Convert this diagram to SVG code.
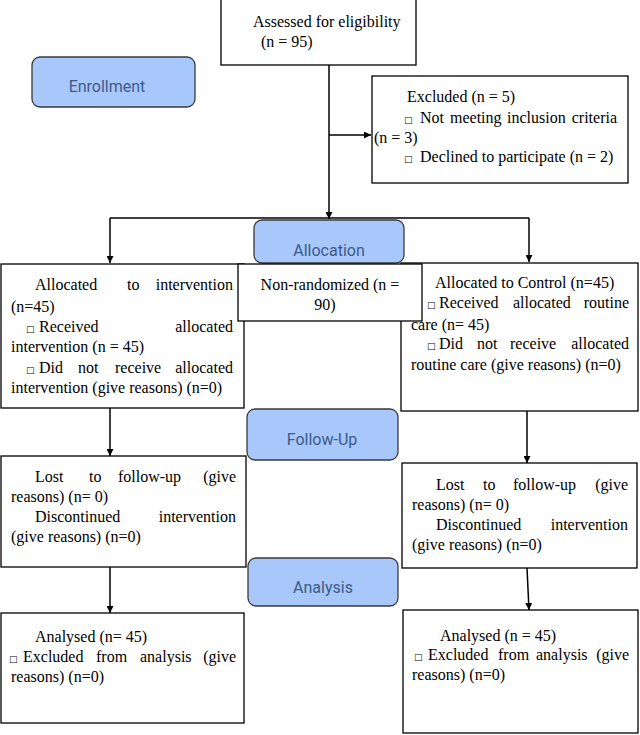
<svg xmlns="http://www.w3.org/2000/svg" width="640" height="735" viewBox="0 0 640 735">
<style>
.box{fill:#fff;stroke:#000;stroke-width:1.3}
.stage{fill:#a8c7fa;stroke:#3a3a3a;stroke-width:1.3}
.t{font-family:"Liberation Serif","Times New Roman",serif;font-size:16px;fill:#000}
.s{font-family:"DejaVu Sans",sans-serif;font-size:9px}
.e{text-anchor:end}
.lbl{font-family:Roboto,"Noto Sans",sans-serif;font-size:16px;fill:#3d5a8a;text-anchor:middle}
.con{fill:none;stroke:#000;stroke-width:1.5}
</style>
<defs>
<marker id="ah" viewBox="0 0 10 10" refX="10" refY="5" markerWidth="7" markerHeight="7" markerUnits="userSpaceOnUse" orient="auto">
<path d="M0,0 L10,5 L0,10 z" fill="#000"/>
</marker>
</defs>
<rect width="640" height="735" fill="#fff"/>

<g id="connectors">
<line class="con" x1="329" y1="65" x2="329" y2="219" marker-end="url(#ah)"/>
<line class="con" x1="329" y1="135" x2="371" y2="135" marker-end="url(#ah)"/>
<polyline class="con" points="110,218 529,218"/>
<line class="con" x1="110" y1="218" x2="110" y2="263" marker-end="url(#ah)"/>
<line class="con" x1="529" y1="218" x2="529" y2="262" marker-end="url(#ah)"/>
<line class="con" x1="110" y1="408" x2="110" y2="456" marker-end="url(#ah)"/>
<line class="con" x1="527" y1="411" x2="527" y2="463" marker-end="url(#ah)"/>
<line class="con" x1="110" y1="567" x2="110" y2="613" marker-end="url(#ah)"/>
<line class="con" x1="527" y1="568" x2="529" y2="610" marker-end="url(#ah)"/>
</g>

<g id="assessed">
<rect class="box" x="221" y="-1" width="195" height="66"/>
<text class="t" x="253" y="27">Assessed for eligibility</text>
<text class="t" x="261" y="47">(n = 95)</text>
</g>

<g id="enrollment">
<rect class="stage" x="32" y="57" width="163" height="50" rx="8"/>
<text class="lbl" x="107" y="92">Enrollment</text>
</g>

<g id="excluded">
<rect class="box" x="372" y="76" width="256" height="107"/>
<text class="t" x="407" y="102">Excluded (n = 5)</text>
<text class="t" y="123"><tspan class="s" x="404">□</tspan><tspan x="420">Not</tspan><tspan x="450">meeting</tspan><tspan x="507">inclusion</tspan><tspan x="617" class="e">criteria</tspan></text>
<text class="t" x="374" y="143">(n = 3)</text>
<text class="t" y="162"><tspan class="s" x="404">□</tspan><tspan x="420">Declined to participate (n = 2)</tspan></text>
</g>

<g id="allocation">
<rect class="stage" x="254" y="220" width="150" height="43" rx="8"/>
<text class="lbl" x="329" y="256">Allocation</text>
</g>

<g id="alloc-intervention">
<rect class="box" x="1" y="264" width="243" height="144"/>
<text class="t" y="290"><tspan x="35">Allocated</tspan><tspan x="127">to</tspan><tspan x="233" class="e">intervention</tspan></text>
<text class="t" x="11" y="312">(n=45)</text>
<text class="t" y="332"><tspan class="s" x="26">□</tspan><tspan x="39">Received</tspan><tspan x="233" class="e">allocated</tspan></text>
<text class="t" x="11" y="352">intervention (n = 45)</text>
<text class="t" y="373"><tspan class="s" x="26">□</tspan><tspan x="39">Did</tspan><tspan x="78">not</tspan><tspan x="115">receive</tspan><tspan x="233" class="e">allocated</tspan></text>
<text class="t" x="11" y="393">intervention (give reasons) (n=0)</text>
</g>

<g id="alloc-control">
<rect class="box" x="401" y="263" width="237" height="148"/>
<text class="t" x="435" y="288">Allocated to Control (n=45)</text>
<text class="t" y="308"><tspan class="s" x="427">□</tspan><tspan x="439">Received</tspan><tspan x="513">allocated</tspan><tspan x="629" class="e">routine</tspan></text>
<text class="t" x="411" y="330">care (n= 45)</text>
<text class="t" y="349"><tspan class="s" x="427">□</tspan><tspan x="439">Did</tspan><tspan x="477">not</tspan><tspan x="510">receive</tspan><tspan x="629" class="e">allocated</tspan></text>
<text class="t" x="411" y="370">routine care (give reasons) (n=0)</text>
</g>

<g id="non-randomized">
<rect class="box" x="238" y="264" width="184" height="57"/>
<text class="t" x="330" y="290" text-anchor="middle">Non-randomized (n =</text>
<text class="t" x="325" y="310" text-anchor="middle">90)</text>
</g>

<g id="followup">
<rect class="stage" x="247" y="409" width="151" height="51" rx="8"/>
<text class="lbl" x="322" y="445">Follow-Up</text>
</g>

<g id="followup-left">
<rect class="box" x="1" y="456" width="245" height="111"/>
<text class="t" y="482"><tspan x="35">Lost</tspan><tspan x="89">to</tspan><tspan x="118">follow-up</tspan><tspan x="236" class="e">(give</tspan></text>
<text class="t" x="11" y="502">reasons) (n= 0)</text>
<text class="t" y="522"><tspan x="35">Discontinued</tspan><tspan x="236" class="e">intervention</tspan></text>
<text class="t" x="11" y="542">(give reasons) (n=0)</text>
</g>

<g id="followup-right">
<rect class="box" x="402" y="463" width="235" height="105"/>
<text class="t" y="490"><tspan x="436">Lost</tspan><tspan x="483">to</tspan><tspan x="513">follow-up</tspan><tspan x="628" class="e">(give</tspan></text>
<text class="t" x="412" y="510">reasons) (n= 0)</text>
<text class="t" y="530"><tspan x="436">Discontinued</tspan><tspan x="628" class="e">intervention</tspan></text>
<text class="t" x="412" y="550">(give reasons) (n=0)</text>
</g>

<g id="analysis">
<rect class="stage" x="248" y="558" width="150" height="48" rx="8"/>
<text class="lbl" x="323" y="593">Analysis</text>
</g>

<g id="analysis-left">
<rect class="box" x="1" y="613" width="243" height="110"/>
<text class="t" x="35" y="642">Analysed (n= 45)</text>
<text class="t" y="662"><tspan class="s" x="9">□</tspan><tspan x="23">Excluded</tspan><tspan x="96">from</tspan><tspan x="140">analysis</tspan><tspan x="236" class="e">(give</tspan></text>
<text class="t" x="11" y="682">reasons) (n=0)</text>
</g>

<g id="analysis-right">
<rect class="box" x="403" y="610" width="235" height="123"/>
<text class="t" x="440" y="641">Analysed (n = 45)</text>
<text class="t" y="660"><tspan class="s" x="414">□</tspan><tspan x="428">Excluded</tspan><tspan x="498">from</tspan><tspan x="536">analysis</tspan><tspan x="629" class="e">(give</tspan></text>
<text class="t" x="412" y="680">reasons) (n=0)</text>
</g>
</svg>
